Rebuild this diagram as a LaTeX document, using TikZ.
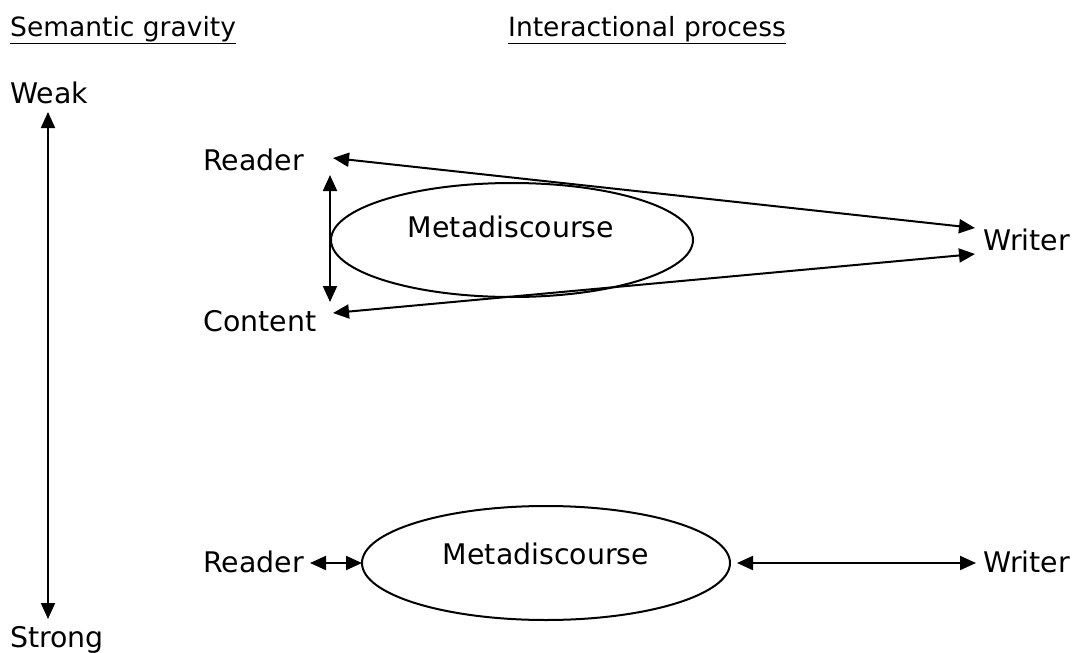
\documentclass[tikz,border=0pt]{standalone}
\usepackage{fontspec}
\setmainfont{DejaVu Sans}
\usetikzlibrary{arrows.meta}
\begin{document}
\begin{tikzpicture}[x=1pt,y=-1pt,
  lbl/.style={anchor=base west,inner sep=0pt,font=\fontsize{28.4}{32}\selectfont},
  head/.style={anchor=base west,inner sep=0pt,font=\fontsize{26.5}{30}\selectfont},
  conn/.style={line width=2pt,{Triangle[length=16pt,width=14pt]}-{Triangle[length=16pt,width=14pt]}},
  shape outline/.style={line width=2pt}]
\useasboundingbox (0,0) rectangle (1074,653);
\node[head] (sg) at (10,36) {\underline{Semantic gravity}};
\node[head] (ip) at (508,36) {\underline{Interactional process}};
\node[lbl] (weak) at (10,103) {Weak};
\node[lbl] (strong) at (10,647) {Strong};
\coordinate (gtop) at (48,112);
\coordinate (gbot) at (48,619);
\draw[conn] (gtop) -- (gbot);
% top group
\draw[shape outline] (512,240) ellipse [x radius=181, y radius=57];
\node[lbl,anchor=base] (meta1) at (511,237) {Metadiscourse};
\node[lbl] (reader1) at (203,170) {Reader};
\node[lbl] (content1) at (203,331) {Content};
\node[lbl] (writer1) at (983,250) {Writer};
\coordinate (r1) at (333,158);
\coordinate (c1) at (333,313);
\coordinate (w1a) at (975,228);
\coordinate (w1b) at (975,254);
\coordinate (v1t) at (330,175);
\coordinate (v1b) at (330,302);
\draw[conn] (r1) -- (w1a);
\draw[conn] (c1) -- (w1b);
\draw[conn] (v1t) -- (v1b);
% bottom group
\draw[shape outline] (546,563) ellipse [x radius=184, y radius=57];
\node[lbl,anchor=base] (meta2) at (546,564) {Metadiscourse};
\node[lbl] (reader2) at (203,572) {Reader};
\node[lbl] (writer2) at (983,572) {Writer};
\coordinate (r2) at (310,563);
\coordinate (e2l) at (362,563);
\coordinate (e2r) at (737,563);
\coordinate (w2) at (976,563);
\draw[conn] (r2) -- (e2l);
\draw[conn] (e2r) -- (w2);
\end{tikzpicture}
\end{document}
